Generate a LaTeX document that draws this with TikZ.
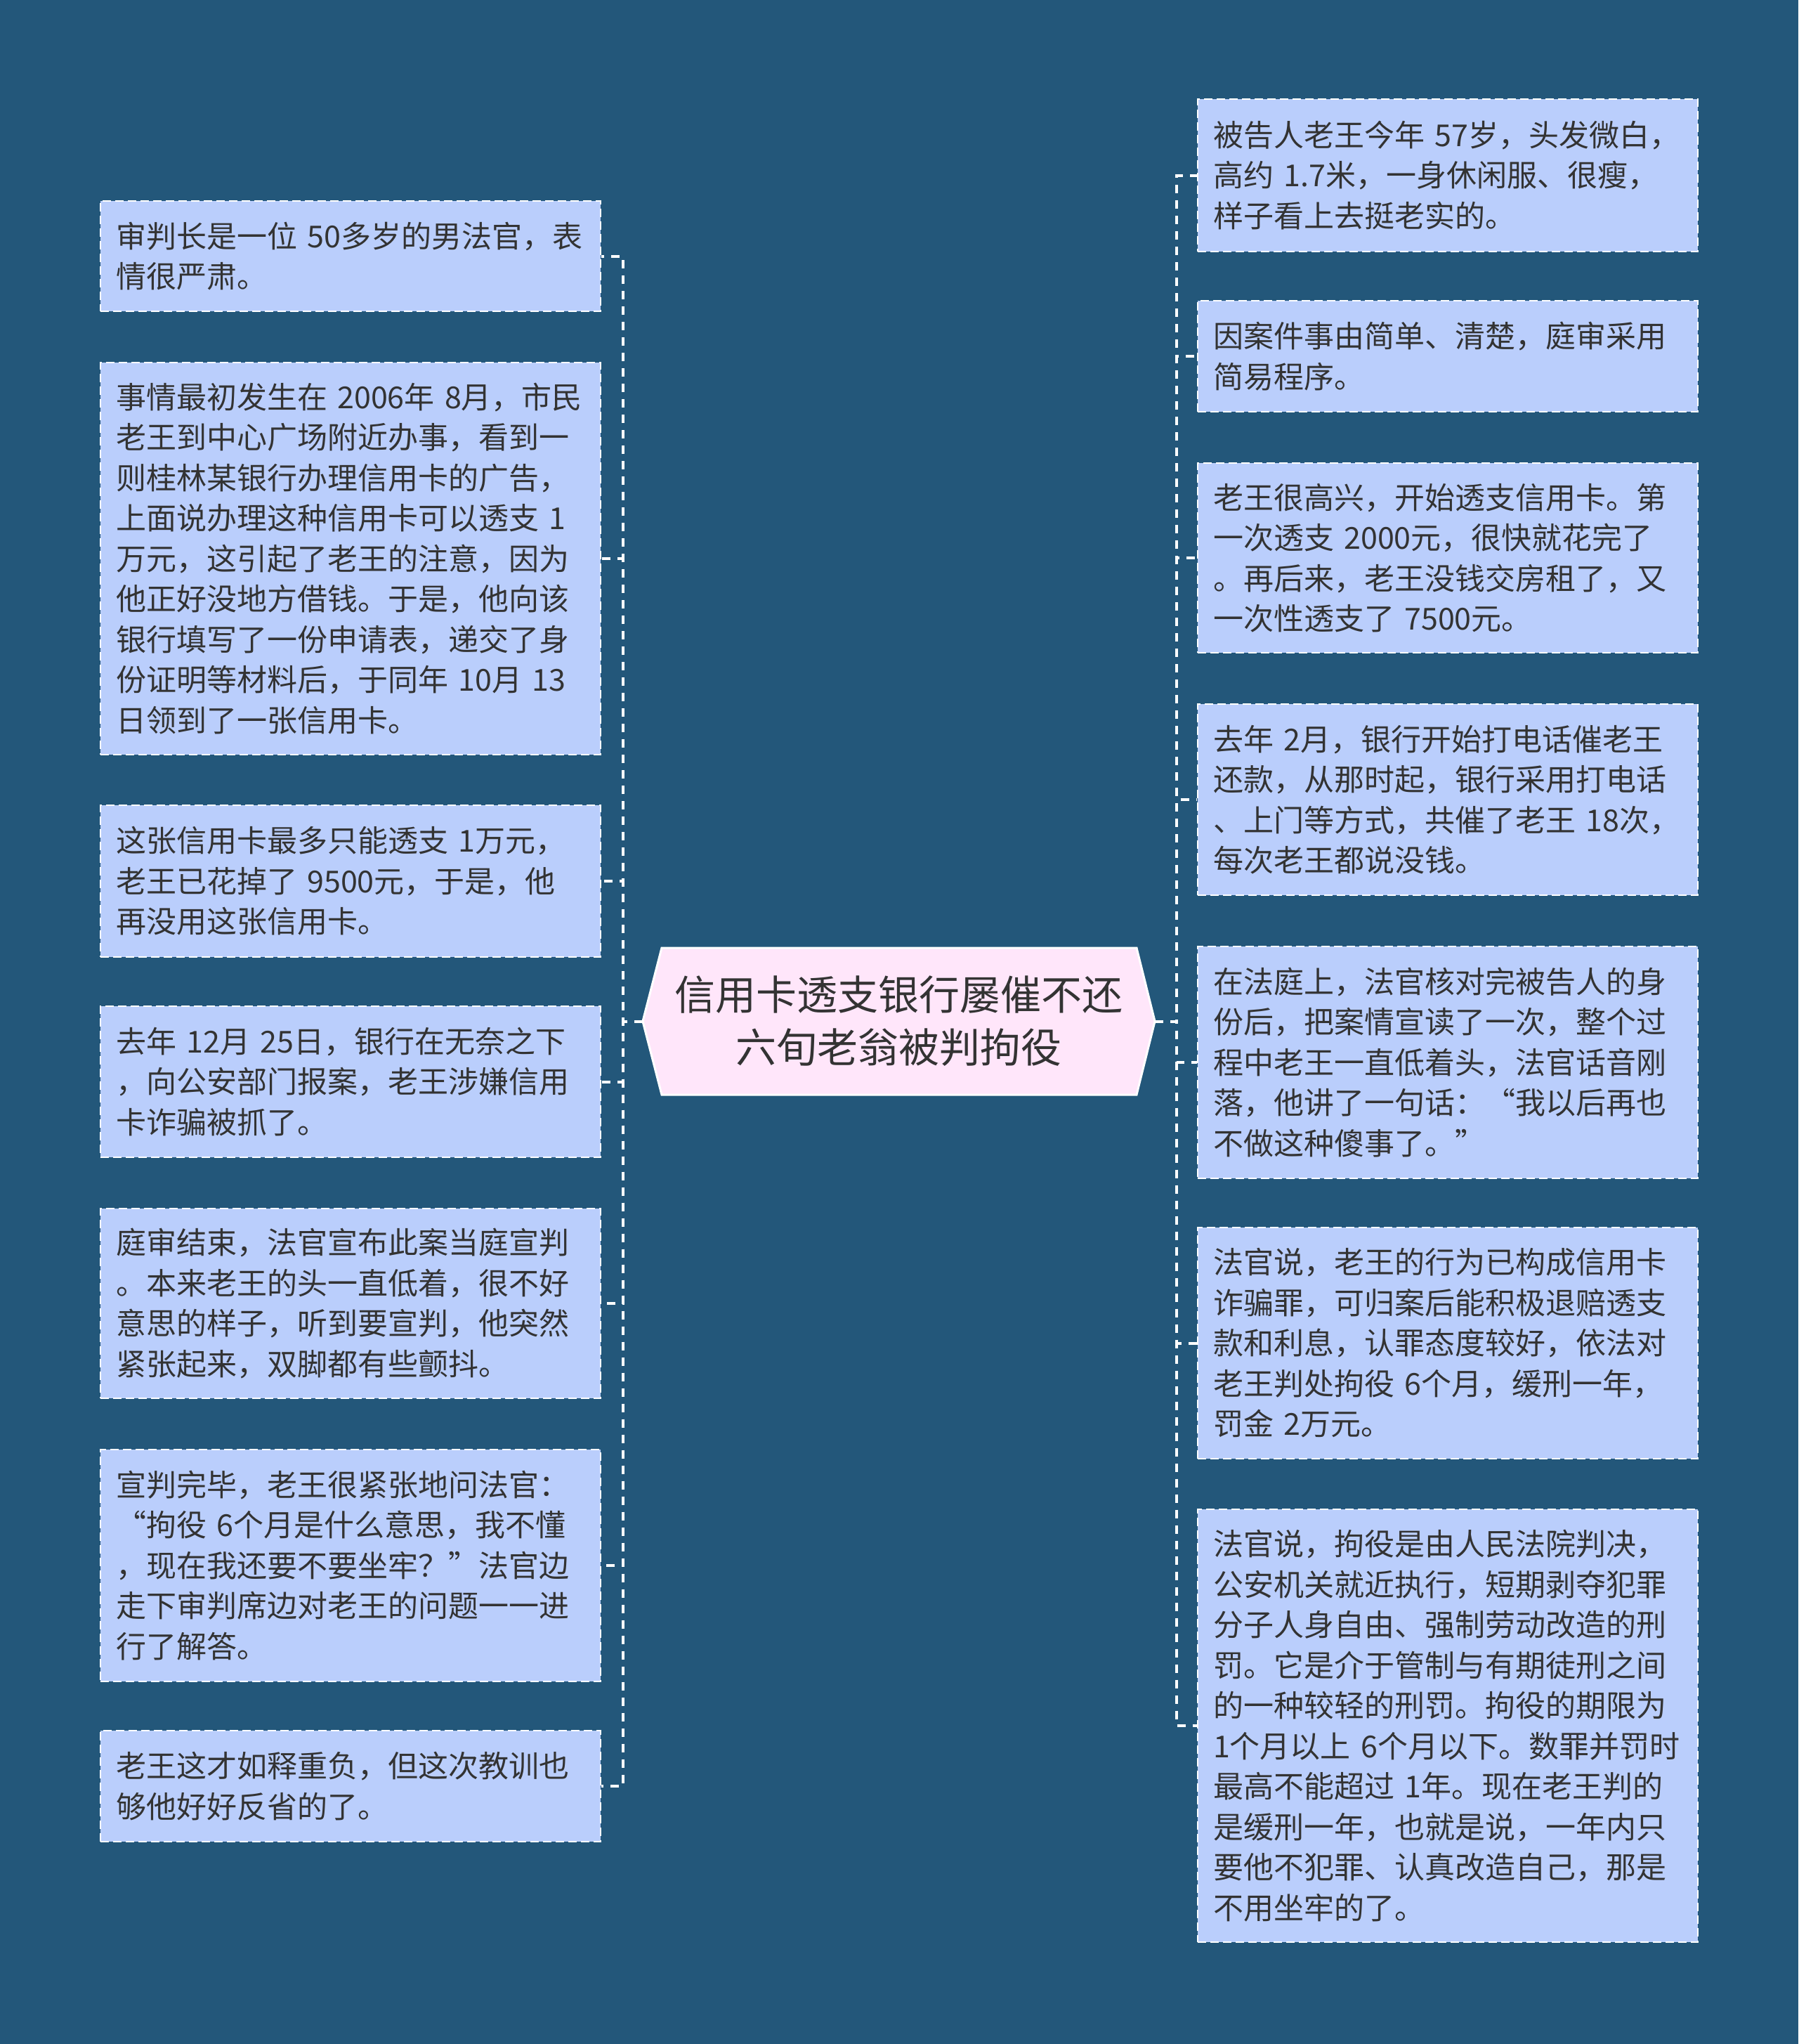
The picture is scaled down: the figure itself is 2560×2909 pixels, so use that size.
\documentclass[tikz,border=0pt]{standalone}
\usepackage{fontspec}
\setmainfont{Noto Sans CJK SC}
\definecolor{bgc}{RGB}{35,87,122}
\definecolor{boxc}{RGB}{186,206,252}
\definecolor{pinkc}{RGB}{255,230,250}
\definecolor{txt}{RGB}{51,51,51}
\begin{document}
\begin{tikzpicture}[x=1pt,y=1pt,
  leaf/.style={draw=white, line width=2.5pt, dash pattern=on 12pt off 6pt, fill=boxc, text=txt,
    font=\fontsize{43}{57.5}\selectfont, text width=668pt, inner xsep=22pt, inner ysep=0pt,
    align=left, anchor=center},
  conn/.style={draw=white, line width=4pt, dash pattern=on 12pt off 10pt}]
\fill[bgc] (0,0) rectangle (2560,-2909);
\useasboundingbox (0,0) rectangle (2560,-2909);

% central node
\draw[white, line width=3pt, fill=pinkc] (915,-1453.5) -- (942,-1349) -- (1618,-1349) -- (1644,-1453.5) -- (1618,-1558) -- (942,-1558) -- cycle;
\node[font=\fontsize{58}{75}\selectfont, text=txt, align=center, minimum width=729pt, minimum height=209pt, inner sep=0pt] (C) at (1279.5,-1453.5) {信用卡透支银行屡催不还\\六旬老翁被判拘役};

% left boxes
\node[leaf, minimum height=157pt] (L1) at (499,-364.5) {审判长是一位 50多岁的男法官，表\\情很严肃。};
\node[leaf, minimum height=558pt] (L2) at (499,-795) {事情最初发生在 2006年 8月，市民\\老王到中心广场附近办事，看到一\\则桂林某银行办理信用卡的广告，\\上面说办理这种信用卡可以透支 1\\万元，这引起了老王的注意，因为\\他正好没地方借钱。于是，他向该\\银行填写了一份申请表，递交了身\\份证明等材料后，于同年 10月 13\\日领到了一张信用卡。};
\node[leaf, minimum height=216pt] (L3) at (499,-1254) {这张信用卡最多只能透支 1万元，\\老王已花掉了 9500元，于是，他\\再没用这张信用卡。};
\node[leaf, minimum height=215pt] (L4) at (499,-1539.5) {去年 12月 25日，银行在无奈之下\\，向公安部门报案，老王涉嫌信用\\卡诈骗被抓了。};
\node[leaf, minimum height=270pt] (L5) at (499,-1855) {庭审结束，法官宣布此案当庭宣判\\。本来老王的头一直低着，很不好\\意思的样子，听到要宣判，他突然\\紧张起来，双脚都有些颤抖。};
\node[leaf, minimum height=330pt] (L6) at (499,-2228) {宣判完毕，老王很紧张地问法官：\\“拘役 6个月是什么意思，我不懂\\，现在我还要不要坐牢？”法官边\\走下审判席边对老王的问题一一进\\行了解答。};
\node[leaf, minimum height=158pt] (L7) at (499,-2542) {老王这才如释重负，但这次教训也\\够他好好反省的了。};

% right boxes
\node[leaf, minimum height=217pt] (R1) at (2061,-249.5) {被告人老王今年 57岁，头发微白，\\高约 1.7米，一身休闲服、很瘦，\\样子看上去挺老实的。};
\node[leaf, minimum height=158pt] (R2) at (2061,-507) {因案件事由简单、清楚，庭审采用\\简易程序。};
\node[leaf, minimum height=270pt] (R3) at (2061,-794) {老王很高兴，开始透支信用卡。第\\一次透支 2000元，很快就花完了\\。再后来，老王没钱交房租了，又\\一次性透支了 7500元。};
\node[leaf, minimum height=272pt] (R4) at (2061,-1138) {去年 2月，银行开始打电话催老王\\还款，从那时起，银行采用打电话\\、上门等方式，共催了老王 18次，\\每次老王都说没钱。};
\node[leaf, minimum height=330pt] (R5) at (2061,-1512) {在法庭上，法官核对完被告人的身\\份后，把案情宣读了一次，整个过\\程中老王一直低着头，法官话音刚\\落，他讲了一句话：“我以后再也\\不做这种傻事了。”};
\node[leaf, minimum height=329pt] (R6) at (2061,-1911.5) {法官说，老王的行为已构成信用卡\\诈骗罪，可归案后能积极退赔透支\\款和利息，认罪态度较好，依法对\\老王判处拘役 6个月，缓刑一年，\\罚金 2万元。};
\node[leaf, minimum height=616pt] (R7) at (2061,-2456) {法官说，拘役是由人民法院判决，\\公安机关就近执行，短期剥夺犯罪\\分子人身自由、强制劳动改造的刑\\罚。它是介于管制与有期徒刑之间\\的一种较轻的刑罚。拘役的期限为\\1个月以上 6个月以下。数罪并罚时\\最高不能超过 1年。现在老王判的\\是缓刑一年，也就是说，一年内只\\要他不犯罪、认真改造自己，那是\\不用坐牢的了。};

% connectors
\foreach \n in {L1,L2,L3,L4,L5,L6,L7}
  \draw[conn] (C.west) -- ([xshift=-28pt]C.west) |- (\n.east);
\foreach \n in {R1,R2,R3,R4,R5,R6,R7}
  \draw[conn] (C.east) -- ([xshift=31pt]C.east) |- (\n.west);
\end{tikzpicture}
\end{document}
